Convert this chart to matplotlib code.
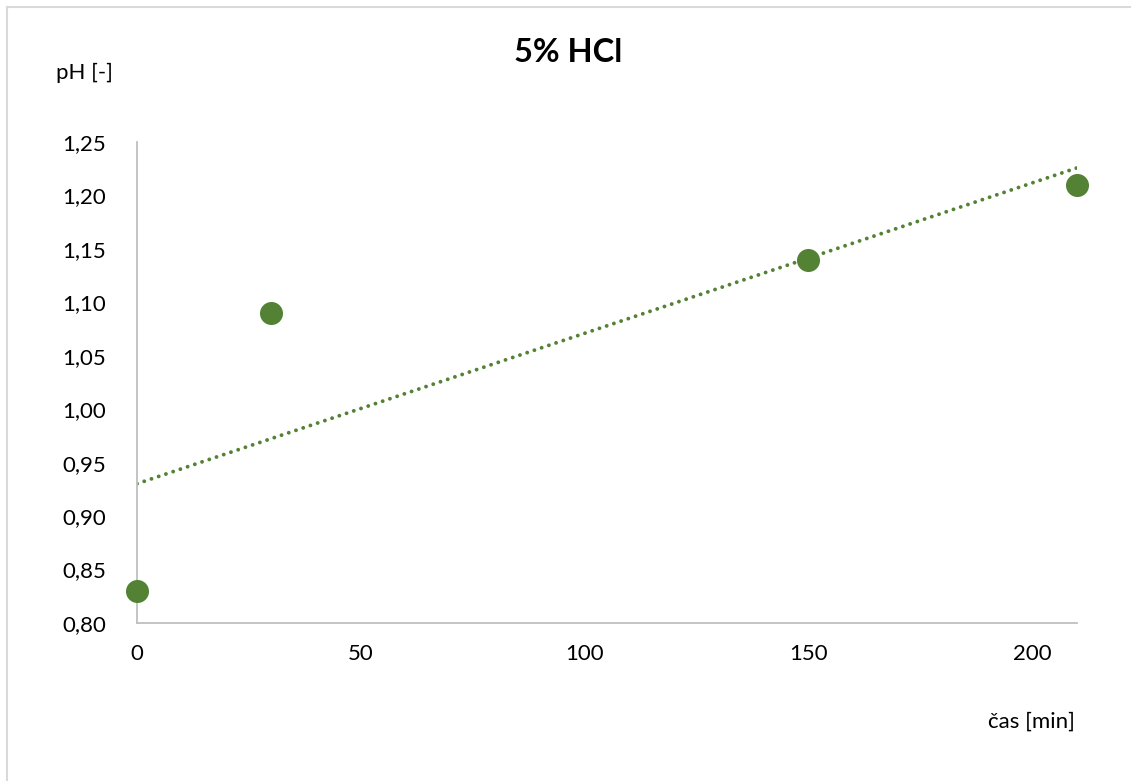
import numpy as np
import matplotlib
matplotlib.use("Agg")
import matplotlib.pyplot as plt
from matplotlib.ticker import FuncFormatter, FixedLocator
from matplotlib.lines import Line2D

# Data
time_min = [0, 30, 150, 210]
ph_values = [0.83, 1.09, 1.14, 1.21]
x_ticks = [0, 50, 100, 150, 200]
y_ticks = [0.80, 0.85, 0.90, 0.95, 1.00, 1.05, 1.10, 1.15, 1.20, 1.25]
title = "5% HCl"
x_label = "čas [min]"
y_label = "pH [-]"

plt.rcParams['font.family'] = ['Lato', 'DejaVu Sans']
green = "#548235"
spine_col = "#BFBFBF"

fig = plt.figure(figsize=(11.31, 7.81), dpi=100)
ax = fig.add_axes([137/1131, 1-623/781, (1077-137)/1131, (623-142)/781])

# linear trendline
coef = np.polyfit(time_min, ph_values, 1)
xt = np.array([min(time_min), max(time_min)])
ax.plot(xt, np.polyval(coef, xt), color=green, lw=2.8,
        linestyle=(0, (0.01, 1.95)), dash_capstyle='round', zorder=2)

ax.scatter(time_min, ph_values, s=275, color=green, zorder=3,
           clip_on=False, linewidths=0)

ax.set_xlim(0, 210)
ax.set_ylim(0.80, 1.25)
ax.xaxis.set_major_locator(FixedLocator(x_ticks))
ax.yaxis.set_major_locator(FixedLocator(y_ticks))
ax.yaxis.set_major_formatter(FuncFormatter(lambda v, p: f"{v:.2f}".replace('.', ',')))
ax.xaxis.set_major_formatter(FuncFormatter(lambda v, p: f"{v:.0f}"))
ax.tick_params(axis='both', length=0, labelsize=16, colors='black')
ax.tick_params(axis='x', pad=15)
ax.tick_params(axis='y', pad=22)

for s in ['top', 'right']:
    ax.spines[s].set_visible(False)
for s in ['left', 'bottom']:
    ax.spines[s].set_color(spine_col)
    ax.spines[s].set_linewidth(1.3)

fig.text(568/1131, 1-52/781, title, ha='center', va='center', fontsize=23.5, fontweight='bold')
fig.text(56/1131, 1-73/781, y_label, ha='left', va='center', fontsize=16)
fig.text(1075/1131, 1-722/781, x_label, ha='right', va='center', fontsize=16)

# partial chart border (top and left)
fig.add_artist(Line2D([7/1131, 1.0], [1-7/781, 1-7/781], transform=fig.transFigure, color="#D9D9D9", lw=1.5))
fig.add_artist(Line2D([7/1131, 7/1131], [0.0, 1-7/781], transform=fig.transFigure, color="#D9D9D9", lw=1.5))

fig.savefig("out.png", dpi=100)
